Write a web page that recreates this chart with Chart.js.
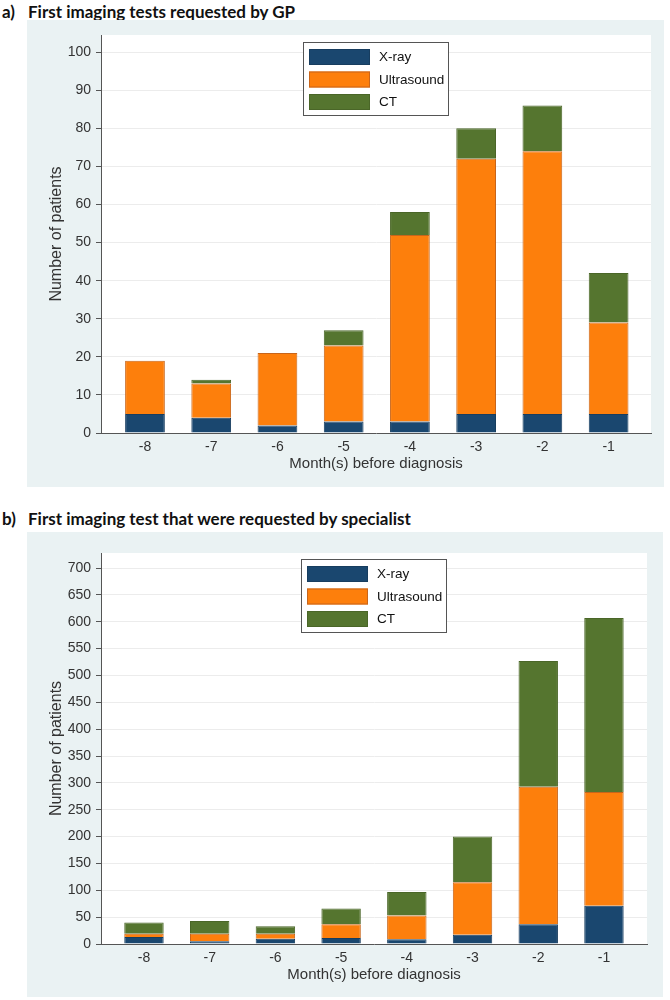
<!DOCTYPE html>
<html>
<head>
<meta charset="utf-8">
<script src="https://cdn.jsdelivr.net/npm/chart.js@4.4.1/dist/chart.umd.min.js"></script>
<style>
  body { margin: 0; background: #fff; width: 670px; height: 1000px; position: relative; font-family: 'Liberation Sans', Arial, sans-serif; }
  .title { position: absolute; left: 0; font-family: Lato, 'Open Sans', sans-serif; font-weight: bold; font-size: 17px; color: #111; white-space: nowrap; }
  .title span { display: inline-block; width: 28px; padding-left: 2px; box-sizing: border-box; }
  .panel { position: absolute; background: #eaf2f3; }
</style>
</head>
<body>
<div class="title" style="top:1px"><span>a)</span>First imaging tests requested by GP</div>
<div class="panel" style="left:27px; top:20px; width:637px; height:467px"><canvas id="gp"></canvas></div>
<div class="title" style="top:508px"><span>b)</span>First imaging test that were requested by specialist</div>
<div class="panel" style="left:27px; top:532px; width:636px; height:465px"><canvas id="spec"></canvas></div>
<script>
const months = [-8, -7, -6, -5, -4, -3, -2, -1]
const seriesNames = ['X-ray', 'Ultrasound', 'CT']

// a) GP requests
const gpXray       = [5, 4, 2, 3, 3, 5, 5, 5]
const gpUltrasound = [14, 9, 19, 20, 49, 67, 69, 24]
const gpCT         = [0, 1, 0, 4, 6, 8, 12, 13]

// b) specialist requests
const specXray       = [13, 5, 10, 11, 9, 17, 37, 71]
const specUltrasound = [6, 14, 9, 26, 44, 98, 256, 212]
const specCT         = [21, 24, 14, 29, 44, 85, 234, 324]

const fills   = ['#1a476f', '#fd7f0c', '#55752f']
const borders = ['#173d5f', '#c8651a', '#4a6628']

Chart.defaults.font.family = "'Liberation Sans', Arial, sans-serif"
Chart.defaults.color = '#333'

const plotBg = {
  id: 'plotBg',
  beforeDraw(chart) {
    const {ctx, chartArea: a} = chart
    ctx.save()
    ctx.fillStyle = '#fff'
    ctx.fillRect(a.left, a.top, a.right - a.left, a.bottom - a.top)
    ctx.restore()
  }
}

// legend box drawn inside the plot, Stata style
const boxLegend = {
  id: 'boxLegend',
  afterDraw(chart, args, opts) {
    const ctx = chart.ctx
    const x = opts.x, y = opts.y
    ctx.save()
    ctx.fillStyle = '#fff'
    ctx.fillRect(x, y, 145, 73)
    ctx.strokeStyle = '#555'
    ctx.lineWidth = 1
    ctx.strokeRect(x + 0.5, y + 0.5, 145, 73)
    chart.data.datasets.forEach((ds, i) => {
      const ry = y + 7 + i * 22.5
      ctx.fillStyle = ds.backgroundColor
      ctx.fillRect(x + 6, ry, 61, 16)
      ctx.strokeStyle = ds.borderColor
      ctx.strokeRect(x + 6.5, ry + 0.5, 60, 15)
      ctx.fillStyle = '#111'
      ctx.font = "13.5px 'Liberation Sans', Arial, sans-serif"
      ctx.textBaseline = 'middle'
      ctx.fillText(ds.label, x + 76, ry + 8.5)
    })
    ctx.restore()
  }
}

function makeChart(id, series, yMax, yStep, xRange, pad, xHeight, xTitlePad, legendPos) {
  return new Chart(document.getElementById(id), {
    type: 'bar',
    data: {
      datasets: series.map((vals, i) => ({
        label: seriesNames[i],
        data: months.map((m, j) => ({x: m, y: vals[j]})),
        backgroundColor: fills[i],
        borderColor: borders[i],
        borderWidth: 1,
        barPercentage: 0.6,
        categoryPercentage: 1.0
      }))
    },
    options: {
      responsive: true,
      maintainAspectRatio: false,
      animation: false,
      layout: {padding: {top: pad.top, right: pad.right, left: 0, bottom: 0}},
      plugins: {
        legend: {display: false},
        tooltip: {enabled: false},
        boxLegend: legendPos
      },
      scales: {
        x: {
          type: 'linear',
          stacked: true,
          offset: false,
          min: xRange[0],
          max: xRange[1],
          afterBuildTicks: s => { s.ticks = months.map(v => ({value: v})) },
          afterFit: s => { s.height = xHeight },
          grid: {display: false, drawTicks: false},
          border: {display: true, color: '#555', width: 1},
          ticks: {padding: 6, color: '#333', font: {size: 14}, callback: v => String(v)},
          title: {display: true, text: 'Month(s) before diagnosis', color: '#333',
                  font: {size: 15}, padding: {top: 0, bottom: xTitlePad}}
        },
        y: {
          stacked: true,
          min: 0,
          max: yMax,
          afterFit: s => { s.width = 74 },
          ticks: {stepSize: yStep, includeBounds: false, padding: 5, color: '#333', font: {size: 14}},
          grid: {color: '#ececec', tickColor: '#555', tickLength: 5},
          border: {display: true, color: '#555', width: 1},
          title: {display: true, text: 'Number of patients', color: '#333',
                  font: {size: 16}, padding: {top: 20, bottom: 0}}
        }
      }
    },
    plugins: [plotBg, boxLegend]
  })
}

makeChart('gp', [gpXray, gpUltrasound, gpCT], 104.5, 10, [-8.664, -0.36],
  {top: 15, right: 13}, 54, 14, {x: 276, y: 22})
makeChart('spec', [specXray, specUltrasound, specCT], 728, 50, [-8.654, -0.345],
  {top: 21, right: 16}, 53, 13, {x: 274, y: 27})
</script>
</body>
</html>
